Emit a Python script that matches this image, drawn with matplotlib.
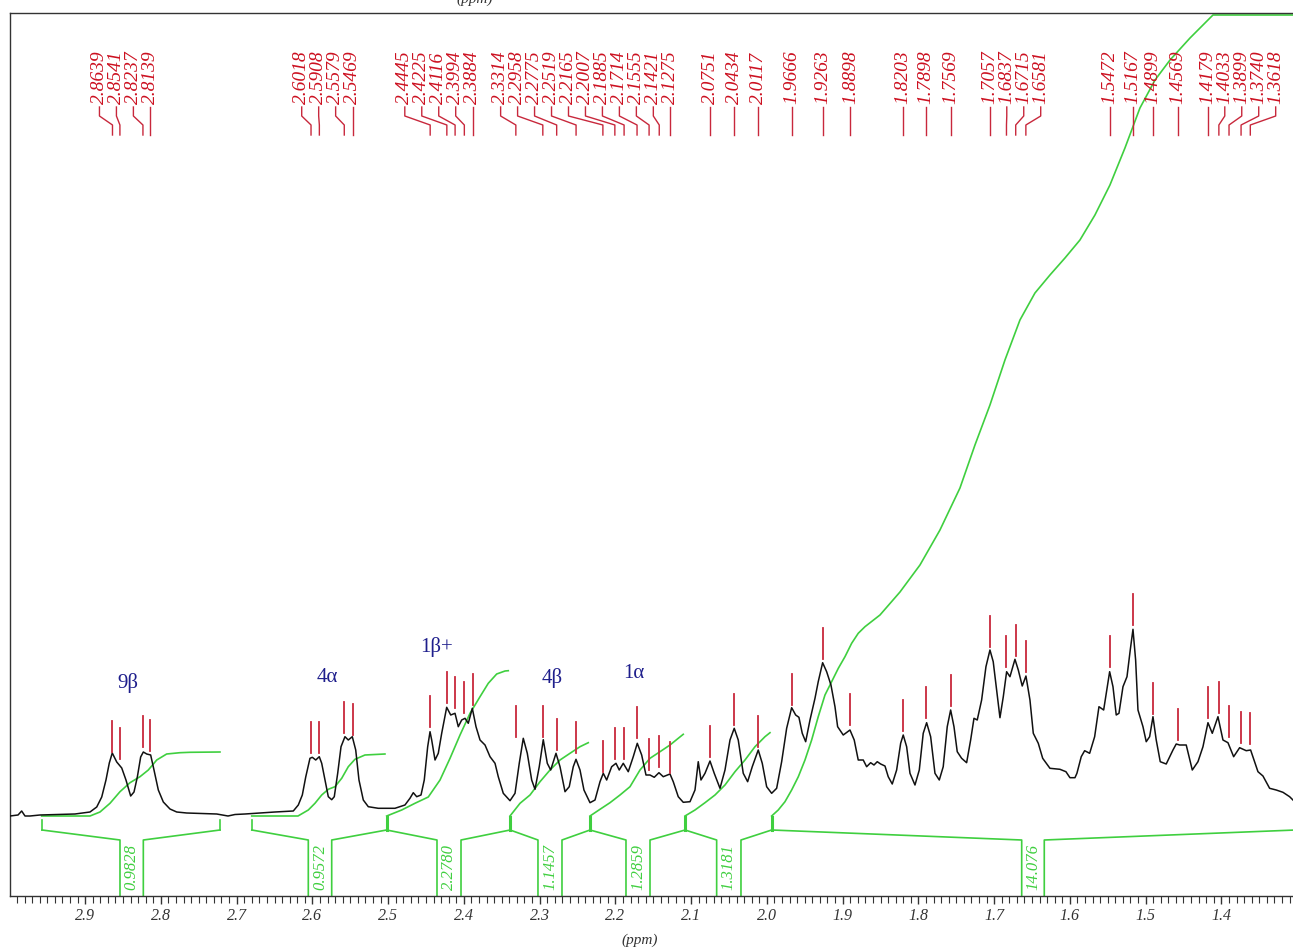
import numpy as np
import matplotlib.pyplot as plt
from matplotlib.ticker import MultipleLocator, FormatStrFormatter

# 1H NMR trace: shift (ppm) and intensity (arbitrary units)
spec_ppm = [2.9992, 2.9886, 2.9838, 2.9794, 2.9728, 2.9596, 2.9134, 2.8936, 2.8847, 2.8781,
            2.8725, 2.8681, 2.8642, 2.8583, 2.8517, 2.8461, 2.8399, 2.8355, 2.8311, 2.8267,
            2.8232, 2.8187, 2.8135, 2.8091, 2.8034, 2.7968, 2.7880, 2.7791, 2.7659, 2.7263,
            2.7114, 2.7022, 2.6890, 2.6494, 2.6252, 2.6186, 2.6133, 2.6088, 2.6032, 2.6001,
            2.5956, 2.5909, 2.5877, 2.5834, 2.5790, 2.5745, 2.5711, 2.5666, 2.5622, 2.5570,
            2.5526, 2.5473, 2.5428, 2.5385, 2.5328, 2.5262, 2.5130, 2.4910, 2.4778, 2.4712,
            2.4668, 2.4623, 2.4566, 2.4523, 2.4478, 2.4447, 2.4425, 2.4381, 2.4338, 2.4293,
            2.4227, 2.4174, 2.4117, 2.4074, 2.4029, 2.3985, 2.3942, 2.3889, 2.3840, 2.3787,
            2.3721, 2.3655, 2.3589, 2.3546, 2.3480, 2.3391, 2.3325, 2.3269, 2.3216, 2.3163,
            2.3105, 2.3061, 2.3005, 2.2952, 2.2899, 2.2854, 2.2784, 2.2731, 2.2665, 2.2609,
            2.2556, 2.2520, 2.2467, 2.2415, 2.2335, 2.2269, 2.2203, 2.2160, 2.2115, 2.2049,
            2.1992, 2.1949, 2.1896, 2.1830, 2.1764, 2.1711, 2.1653, 2.1596, 2.1543, 2.1487,
            2.1425, 2.1368, 2.1279, 2.1236, 2.1170, 2.1104, 2.1015, 2.0949, 2.0906, 2.0870,
            2.0817, 2.0751, 2.0695, 2.0619, 2.0553, 2.0487, 2.0431, 2.0378, 2.0312, 2.0254,
            2.0193, 2.0114, 2.0061, 2.0003, 1.9937, 1.9871, 1.9805, 1.9739, 1.9673, 1.9620,
            1.9577, 1.9533, 1.9488, 1.9431, 1.9365, 1.9322, 1.9264, 1.9211, 1.9154, 1.9101,
            1.9066, 1.8992, 1.8903, 1.8847, 1.8794, 1.8728, 1.8683, 1.8630, 1.8586, 1.8543,
            1.8498, 1.8441, 1.8398, 1.8345, 1.8287, 1.8234, 1.8200, 1.8155, 1.8111, 1.8045,
            1.7988, 1.7936, 1.7891, 1.7838, 1.7781, 1.7724, 1.7672, 1.7619, 1.7574, 1.7530,
            1.7487, 1.7429, 1.7363, 1.7310, 1.7266, 1.7223, 1.7165, 1.7108, 1.7055, 1.7012,
            1.6967, 1.6923, 1.6879, 1.6835, 1.6791, 1.6725, 1.6681, 1.6629, 1.6580, 1.6527,
            1.6483, 1.6417, 1.6359, 1.6263, 1.6131, 1.6052, 1.5999, 1.5933, 1.5907, 1.5850,
            1.5805, 1.5739, 1.5673, 1.5616, 1.5554, 1.5520, 1.5475, 1.5431, 1.5388, 1.5352,
            1.5299, 1.5246, 1.5203, 1.5167, 1.5132, 1.5101, 1.5035, 1.4992, 1.4947, 1.4903,
            1.4860, 1.4807, 1.4728, 1.4639, 1.4596, 1.4551, 1.4464, 1.4384, 1.4309, 1.4243,
            1.4177, 1.4120, 1.4045, 1.3979, 1.3913, 1.3838, 1.3759, 1.3672, 1.3614, 1.3517,
            1.3451, 1.3363, 1.3276, 1.3187, 1.3099, 1.3055]
spec_int = [-1, 0, 4, -1, -1, 0, 1, 3, 8, 18,
            35, 52, 62, 53, 47, 35, 19, 23, 38, 58,
            63, 61, 60, 45, 25, 13, 6, 3, 2, 1,
            -1, 0.5, 1, 3, 4, 10, 20, 38, 56.7, 57.7,
            55, 58.3, 51.7, 35, 18.3, 15.3, 18.3, 41.7, 68.3, 78.3,
            75, 78.3, 65, 35, 15, 8.3, 6.7, 6.7, 10, 16.7,
            22.3, 18.3, 20, 35, 68.3, 83.3, 75, 55, 61.7, 81.7,
            107.7, 100, 101.7, 88.3, 95, 96.7, 91.7, 106.7, 88.3, 75,
            70, 58.3, 51.7, 38.3, 21.7, 14.3, 21.7, 51.7, 76.7, 61.7,
            35, 25.7, 48.3, 75.3, 51.7, 45, 61.7, 48.3, 23.3, 28.3,
            48.3, 55.7, 45, 25, 12.3, 15, 33.3, 41.7, 35, 48.3,
            51.7, 45, 51.7, 43.3, 58.3, 71.7, 60, 40, 40, 37.7,
            42.3, 38.3, 41, 33.3, 18.3, 12.7, 13.3, 25, 53.3, 35,
            41.7, 54, 41.7, 26.7, 45, 75, 86.7, 75, 41.7, 33.3,
            48.3, 65, 51.7, 28.3, 21.7, 26.7, 53.3, 86.7, 107.3, 100,
            97.7, 81.7, 73.3, 95, 116.7, 133.3, 152.3, 143.3, 130, 108.3,
            88.3, 80, 85, 75, 55, 55, 48.3, 52.3, 50, 53.3,
            51, 49, 38.3, 31, 45, 71.7, 80, 68.3, 41.7, 30,
            45, 81.7, 92.3, 78.3, 41.7, 35, 48.3, 88.3, 105, 88.3,
            63.3, 56.7, 52.3, 75, 96.7, 95, 115, 148.3, 165, 153.3,
            125, 97.3, 118.3, 143.3, 138.3, 155.7, 145, 129, 139, 115,
            81.7, 71.7, 56.7, 46.7, 45.7, 43.3, 37.3, 37.3, 41.7, 58.3,
            64.3, 61.7, 78.3, 108.3, 105, 121.7, 143.3, 128.3, 100, 101.7,
            128.3, 138.3, 165, 185.7, 155, 105, 88.3, 73.3, 78.3, 98.3,
            75, 53.3, 51, 65, 71, 70, 70, 45, 53.3, 68.3,
            92.3, 81.7, 98.3, 75, 72.3, 58.3, 67.3, 64.3, 65, 43.3,
            39, 26.7, 25, 22.7, 18.3, 15]

# picked peaks (label values) and intensity just above each peak top
peak_ppm = [2.8639, 2.8541, 2.8237, 2.8139,
            2.6018, 2.5908, 2.5579, 2.5469,
            2.4445, 2.4225, 2.4116, 2.3994, 2.3884,
            2.3314, 2.2958, 2.2775, 2.2519, 2.2165, 2.2007, 2.1885, 2.1714, 2.1555, 2.1421, 2.1275,
            2.0751, 2.0434, 2.0117,
            1.9666, 1.9263, 1.8898,
            1.8203, 1.7898, 1.7569,
            1.7057, 1.6837, 1.6715, 1.6581,
            1.5472, 1.5167, 1.4899, 1.4569,
            1.4179, 1.4033, 1.3899, 1.3740, 1.3618]
peak_int = [63, 56, 68, 64,
            62, 62, 82, 80,
            88, 112, 107, 102, 110,
            78, 78, 65, 62, 43, 56, 56, 77, 45, 48, 42,
            58, 90, 68,
            110, 156, 90,
            84, 97, 109,
            168, 148, 159, 143,
            148, 190, 101, 75,
            97, 102, 78, 72, 71]

# assignments
group_names = ['9β', '4α', '1β+', '4β', '1α']
group_ppm = [2.8434, 2.5807, 2.4355, 2.2837, 2.1754]
group_int = [132, 137, 168, 137, 142]

# integration regions
int_values = ['0.9828', '0.9572', '2.2780', '1.1457', '1.2859', '1.3181', '14.076']
int_start = [2.957, 2.680, 2.502, 2.339, 2.2335, 2.108, 1.9937]
int_end = [2.722, 2.502, 2.339, 2.2335, 2.108, 1.9937, 1.302]
int_cut_left = [2.854, 2.6054, 2.4355, 2.3022, 2.186, 2.0663, 1.6636]
int_cut_right = [2.8232, 2.5745, 2.4038, 2.2705, 2.1543, 2.0342, 1.6338]

# integral curves
i1_ppm = [2.9574, 2.8936, 2.8804, 2.8672, 2.8540, 2.8408, 2.8276, 2.8166, 2.8055, 2.7924, 2.7748, 2.7616, 2.7220]
i1_val = [-1, -1, 3, 11.7, 23.3, 32.3, 38.3, 45, 55, 61, 62.3, 62.7, 63]
i2_ppm = [2.6801, 2.6190, 2.6054, 2.5966, 2.5877, 2.5790, 2.5702, 2.5613, 2.5526, 2.5438, 2.5306, 2.5042]
i2_val = [-1, -1, 5, 11.7, 20, 25.7, 28.3, 36.7, 48.3, 55.7, 60, 61]
i3_ppm = [2.5019, 2.4821, 2.4646, 2.4470, 2.4315, 2.4183, 2.4051, 2.3919, 2.3787, 2.3678, 2.3567, 2.3457, 2.3414]
i3_val = [-1, 5, 11.7, 18, 35, 56.7, 80, 101.7, 118.3, 131.7, 141, 144, 144.3]
i4_ppm = [2.3391, 2.3259, 2.3127, 2.2995, 2.2863, 2.2731, 2.2599, 2.2467, 2.2358]
i4_val = [-1, 11.7, 20, 33.3, 45, 55, 61.7, 68.3, 72.3]
i5_ppm = [2.2335, 2.2203, 2.2071, 2.1939, 2.1807, 2.1675, 2.1543, 2.1411, 2.1279, 2.1170, 2.1104]
i5_val = [-1, 5.7, 12.3, 20, 28.3, 45, 56.7, 63.3, 70, 76.7, 80.7]
i6_ppm = [2.1081, 2.0949, 2.0817, 2.0685, 2.0553, 2.0421, 2.0289, 2.0157, 2.0025, 1.9959]
i6_val = [-1, 5, 12.3, 20, 30, 43.3, 55, 68.3, 78.3, 82.3]
i7_ppm = [1.9937, 1.9850, 1.9761, 1.9673, 1.9585, 1.9497, 1.9409, 1.9322, 1.9233, 1.9145,
          1.9057, 1.8969, 1.8881, 1.8794, 1.8705, 1.8507, 1.8243, 1.7979, 1.7715, 1.7451,
          1.7253, 1.7055, 1.6857, 1.6659, 1.6461, 1.6263, 1.6065, 1.5867, 1.5669, 1.5471,
          1.5273, 1.5075, 1.4876, 1.4678, 1.4414, 1.4111, 1.2900]
i7_val = [-1, 5, 13.3, 25, 38.3, 55, 75, 98.3, 120, 133.3,
          146.7, 158.3, 171.7, 181.7, 188.3, 200, 223, 250, 285, 327,
          370, 410, 455, 495, 522, 540, 557, 575, 600, 630,
          667, 707, 735, 755, 777, 800, 800]
int_curves = [(i1_ppm, i1_val), (i2_ppm, i2_val), (i3_ppm, i3_val), (i4_ppm, i4_val),
              (i5_ppm, i5_val), (i6_ppm, i6_val), (i7_ppm, i7_val)]

tick_vals = [2.9, 2.8, 2.7, 2.6, 2.5, 2.4, 2.3, 2.2, 2.1, 2.0, 1.9, 1.8, 1.7, 1.6, 1.5, 1.4]

BLACK = '#111111'
GREEN = '#3fcf3f'
RED = '#c8283c'
LABEL_RED = '#cc1020'
NAVY = '#1e1e8c'
serif = ['Liberation Serif', 'DejaVu Serif']


def spread_labels(pos, gap, split):
    # push overlapping labels apart: left part pushed left, right part pushed right
    out = list(pos)
    left = [i for i, p in enumerate(pos) if p >= split]
    right = [i for i, p in enumerate(pos) if p < split]
    for k in range(len(left) - 2, -1, -1):
        i, j = left[k], left[k + 1]
        out[i] = max(pos[i], out[j] + gap)
    for k in range(1, len(right)):
        i, j = right[k], right[k - 1]
        out[i] = min(pos[i], out[j] - gap)
    return out


fig = plt.figure(figsize=(12.93, 9.51), dpi=100)
ax = fig.add_axes([10 / 1293, 55 / 951, 1290 / 1293, 883 / 951])
ax.set_xlim(2.9992, 1.2962)
ax.set_ylim(-81, 802)

# spectrum
ax.plot(spec_ppm, spec_int, color=BLACK, lw=1.1, zorder=3)

# peak markers
for p, h in zip(peak_ppm, peak_int):
    ax.plot([p, p], [h, h + 31], color=RED, lw=1.3, zorder=4)

# peak labels with connectors
lab_pos = spread_labels(peak_ppm, 0.0224, 2.0)
for p, lp in zip(peak_ppm, lab_pos):
    ax.plot([lp, lp, p, p], [708, 699, 690, 680], color=RED, lw=1.0, zorder=4)
    ax.text(lp, 711, f'{p:.4f}', rotation=90, ha='center', va='bottom',
            color=LABEL_RED, fontsize=14, family=serif, style='italic')

# assignment labels
for name, p, h in zip(group_names, group_ppm, group_int):
    ax.text(p, h, name, ha='center', va='center', color=NAVY, fontsize=15, family=serif)

# integral curves
for xs, ys in int_curves:
    ax.plot(xs, ys, color=GREEN, lw=1.2, zorder=2)

# integral brackets
shared = set(int_start) & set(int_end)
for a in sorted(set(int_start) | set(int_end)):
    wide = a in shared
    ax.plot([a, a], [-2 if wide else -5, -15], color=GREEN, lw=2.2 if wide else 1.2)
for a, b, c1, c2, val in zip(int_start, int_end, int_cut_left, int_cut_right, int_values):
    ax.plot([a, c1, c1], [-15, -25, -81], color=GREEN, lw=1.2)
    ax.plot([b, c2, c2], [-15, -25, -81], color=GREEN, lw=1.2)
    ax.text((c1 + c2) / 2, -52, val, rotation=90, ha='center', va='center',
            color=GREEN, fontsize=12, family=serif, style='italic')

# axes styling
ax.spines['right'].set_visible(False)
for side in ['left', 'top', 'bottom']:
    ax.spines[side].set_color('#333333')
    ax.spines[side].set_linewidth(1.0)
ax.yaxis.set_visible(False)
ax.set_xticks(tick_vals)
ax.xaxis.set_minor_locator(MultipleLocator(0.01))
ax.xaxis.set_major_formatter(FormatStrFormatter('%.1f'))
ax.tick_params(axis='x', which='major', direction='out', length=6, width=1, pad=3,
               labelsize=11.5, colors='#333333')
ax.tick_params(axis='x', which='minor', direction='out', length=5, width=0.8, colors='#333333')
for t in ax.get_xticklabels():
    t.set_family(serif)
    t.set_style('italic')

fig.text(640 / 1293, 1 - 940 / 951, '(ppm)', ha='center', va='center',
         fontsize=11, family=serif, style='italic', color='#333333')
fig.text(475 / 1293, 1 + 1 / 951, '(ppm)', ha='center', va='center',
         fontsize=11, family=serif, style='italic', color='#333333')

fig.savefig('out.png', dpi=100)
